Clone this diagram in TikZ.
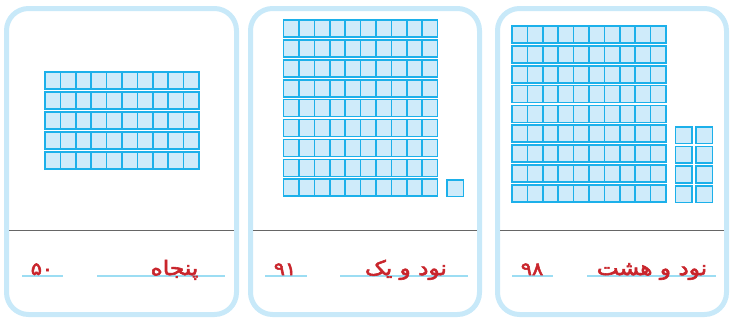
\documentclass[tikz,border=0pt]{standalone}
\usepackage{fontspec}
\newfontfamily\arabicfont[Script=Arabic,FakeBold=3,FakeStretch=1.16]{DejaVu Sans}
\TeXXeTstate=1
\definecolor{cardborder}{HTML}{C8E9F9}
\definecolor{cubefill}{HTML}{CFEBFA}
\definecolor{cubeline}{HTML}{1CB0EA}
\definecolor{divline}{HTML}{666666}
\definecolor{uline}{HTML}{9CDDF3}
\definecolor{labelred}{HTML}{C9252C}
\tikzset{
  card/.style={draw=cardborder, line width=5pt, rounded corners=22pt, fill=white},
  cube/.style={draw=cubeline, fill=cubefill, line width=1.6pt},
  divider/.style={draw=divline, line width=1pt},
  answerline/.style={draw=uline, line width=1.6pt},
  lbl/.style={text=labelred, font=\arabicfont\fontsize{20}{22}\selectfont, inner sep=0pt, anchor=base},
  numlbl/.style={lbl, font=\arabicfont\fontsize{18}{20}\selectfont}
}
\newcommand\tenrod[2]{%
  \foreach \i in {0,...,9} {\draw[cube] ({#1+\i*15.4},#2) rectangle ++(15.4,17);}%
}
\newcommand\unitcube[2]{\draw[cube] (#1,#2) rectangle ++(16.5,16.5);}
\begin{document}
\begin{tikzpicture}[x=1pt,y=-1pt]
\useasboundingbox (0,0) rectangle (734,327);
% cards
\draw[card] (6.5,8.5) rectangle (236.5,314.5);
\draw[card] (250.5,8.5) rectangle (479.5,314.5);
\draw[card] (497.5,8.5) rectangle (726.5,314.5);
% dividers
\draw[divider] (9,230) -- (234,230);
\draw[divider] (253,230) -- (477,230);
\draw[divider] (500,230) -- (724,230);
% card 1 : 50
\foreach \r in {0,...,4} {\tenrod{45}{72+\r*20}}
% card 2 : 91
\foreach \r in {0,...,8} {\tenrod{283.5}{20+\r*19.9}}
\unitcube{447}{180}
% card 3 : 98
\foreach \r in {0,...,8} {\tenrod{512}{26+\r*19.85}}
\foreach \r in {0,...,3} {\unitcube{675.5}{127+\r*19.6}\unitcube{696}{127+\r*19.6}}
% answer lines
\draw[answerline] (22,275.7) -- (63,275.7);
\draw[answerline] (97,275.7) -- (225,275.7);
\draw[answerline] (265,275.7) -- (307,275.7);
\draw[answerline] (340,275.7) -- (468,275.7);
\draw[answerline] (512,275.7) -- (553,275.7);
\draw[answerline] (587,275.7) -- (716,275.7);
% labels
\node[numlbl] (n1) at (42,275) {۵۰};
\node[lbl] (w1) at (174.5,275) {\beginR پنجاه\endR};
\node[numlbl] (n2) at (285,275) {۹۱};
\node[lbl] (w2) at (406,275) {\beginR نود و یک\endR};
\node[numlbl] (n3) at (532,275) {۹۸};
\node[lbl] (w3) at (652,275) {\beginR نود و هشت\endR};
\end{tikzpicture}
\end{document}
